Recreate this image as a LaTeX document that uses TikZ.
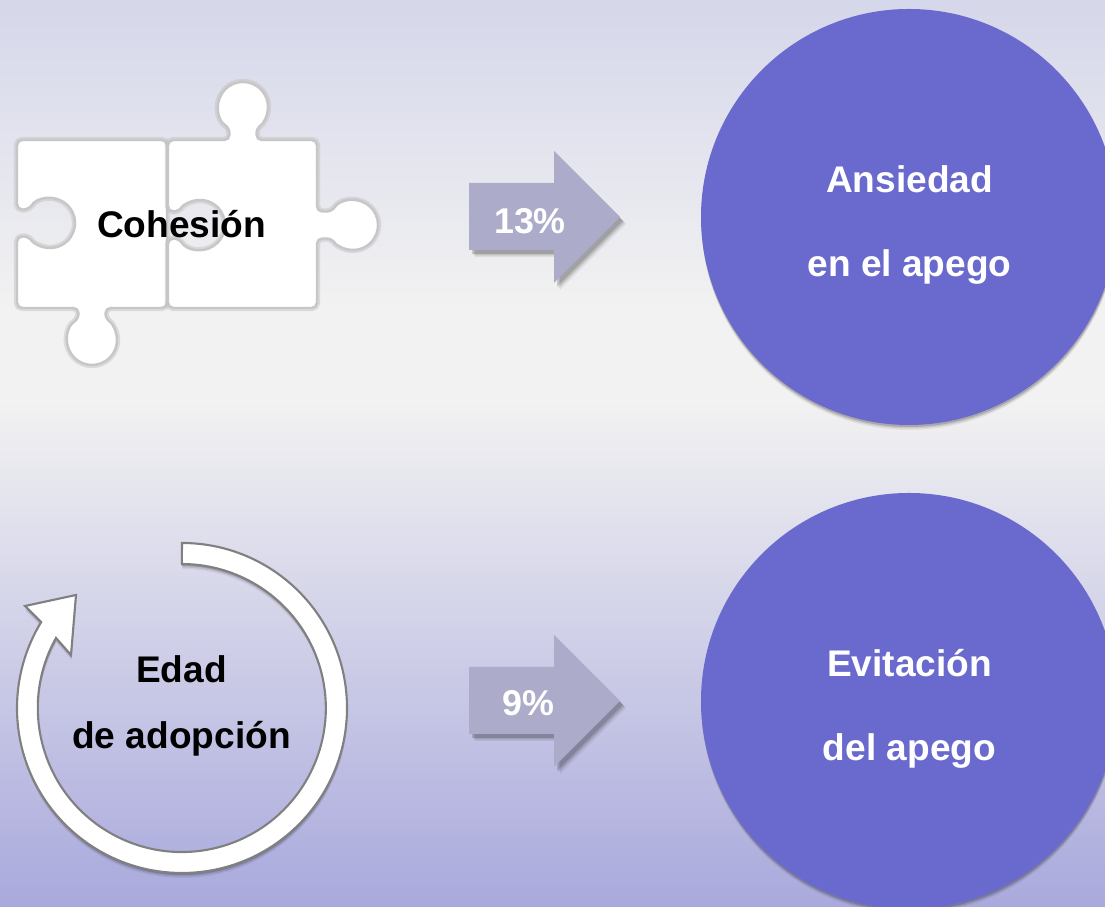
\documentclass[tikz,border=0pt]{standalone}
\usepackage{fontspec}
\setmainfont{Liberation Sans}
\usetikzlibrary{shadows}

\definecolor{circlefill}{HTML}{6A6ACE}
\definecolor{arrowfill}{HTML}{ACACCA}
\definecolor{pagetop}{HTML}{D5D7EA}
\definecolor{pagemid}{HTML}{F2F2F2}
\definecolor{pagebottom}{HTML}{A9A9DD}
\pgfdeclareverticalshading{pagefill}{100bp}{color(0bp)=(pagebottom); color(25bp)=(pagebottom); color(52.9bp)=(pagemid); color(57.9bp)=(pagemid); color(75bp)=(pagetop); color(100bp)=(pagetop)}

\tikzset{
  softshadow/.style={drop shadow={shadow xshift=.005cm, shadow yshift=-.05cm, opacity=.06, fill=black},
    drop shadow={shadow xshift=.005cm, shadow yshift=-.035cm, opacity=.1, fill=black},
    drop shadow={shadow xshift=.003cm, shadow yshift=-.02cm, opacity=.16, fill=black}},
  armshadow/.style={drop shadow={shadow xshift=.06cm, shadow yshift=-.07cm, opacity=.07, fill=black},
    drop shadow={shadow xshift=.045cm, shadow yshift=-.055cm, opacity=.12, fill=black},
    drop shadow={shadow xshift=.03cm, shadow yshift=-.04cm, opacity=.16, fill=black}},
  goal/.style={circle, fill=circlefill, minimum size=4.16cm, inner sep=0pt, softshadow},
  goaltext/.style={text=white, align=center, font=\fontsize{10.55}{23.9}\selectfont\bfseries},
  percent/.style={fill=arrowfill, armshadow},
  percenttext/.style={text=white, font=\fontsize{10.2}{12}\selectfont\bfseries},
  factor/.style={text=black, align=center, font=\fontsize{10.55}{18.7}\selectfont\bfseries},
  piece/.style={fill=white, draw=black!22, line width=.7pt, rounded corners=1.5pt,
    preaction={draw=black!25, line width=1.8pt, opacity=.45}},
  ring/.style={fill=white, draw=black!50, line width=.6pt, softshadow}
}

\begin{document}
\begin{tikzpicture}

% Page background
\shade[shading=pagefill] (0, 0) rectangle (11.05, 9.07);
\useasboundingbox (0, 0) rectangle (11.05, 9.07);

% Puzzle
\draw[piece] (.17, 7.67) -- (.17, 6.975) -- (.29, 6.975)
  arc[start angle=147.3, end angle=-147.3, radius=.25] -- (.17, 6.705)
  -- (.17, 5.99) -- (.785, 5.99) -- (.785, 5.88)
  arc[start angle=122.7, end angle=417.3, radius=.25] -- (1.055, 5.99)
  -- (1.67, 5.99) -- (1.67, 7.67) -- cycle;
\draw[piece] (1.68, 7.67) -- (2.295, 7.67) -- (2.295, 7.79)
  arc[start angle=237.3, end angle=-57.3, radius=.25] -- (2.565, 7.67)
  -- (3.17, 7.67) -- (3.17, 6.955) -- (3.32, 6.955)
  arc[start angle=147.3, end angle=-147.3, radius=.25] -- (3.17, 6.685)
  -- (3.17, 5.99) -- (1.68, 5.99) -- (1.68, 6.685) -- (1.79, 6.685)
  arc[start angle=212.7, end angle=507.3, radius=.25] -- (1.68, 6.955) -- cycle;
\node[factor] (cohesion) at (1.815, 6.83) {Cohesión};

% Circular arrow
\draw[ring] (1.82, 3.64) arc[start angle=90, end angle=-211.4, radius=1.65]
  -- (.25, 3.01) -- (.76, 3.12) -- (.71, 2.52) -- (.56, 2.69)
  arc[start angle=150.9, end angle=450, radius=1.44] -- cycle;
\node[factor] (edad) at (1.815, 2.01) {Edad\\de adopción};

% Percent arrows
\fill[percent] (4.69, 7.24) -- (5.54, 7.24) -- (5.54, 7.56) -- (6.2, 6.9)
  -- (5.54, 6.24) -- (5.54, 6.57) -- (4.69, 6.57) -- cycle;
\node[percenttext] (pctone) at (5.3, 6.86) {13\%};
\fill[percent] (4.69, 2.40) -- (5.54, 2.40) -- (5.54, 2.72) -- (6.2, 2.06)
  -- (5.54, 1.40) -- (5.54, 1.73) -- (4.69, 1.73) -- cycle;
\node[percenttext] (pcttwo) at (5.28, 2.04) {9\%};

% Big circles
\begin{scope}
\clip (0, 0) rectangle (11.05, 9.07);
\node[goal] (ansiedad) at (9.09, 6.9) {};
\node[goal] (evitacion) at (9.09, 2.06) {};
\end{scope}
\node[goaltext] (ansiedadtext) at (9.095, 6.82) {Ansiedad\\en el apego};
\node[goaltext] (evitaciontext) at (9.095, 1.98) {Evitación\\del apego};

\end{tikzpicture}
\end{document}
